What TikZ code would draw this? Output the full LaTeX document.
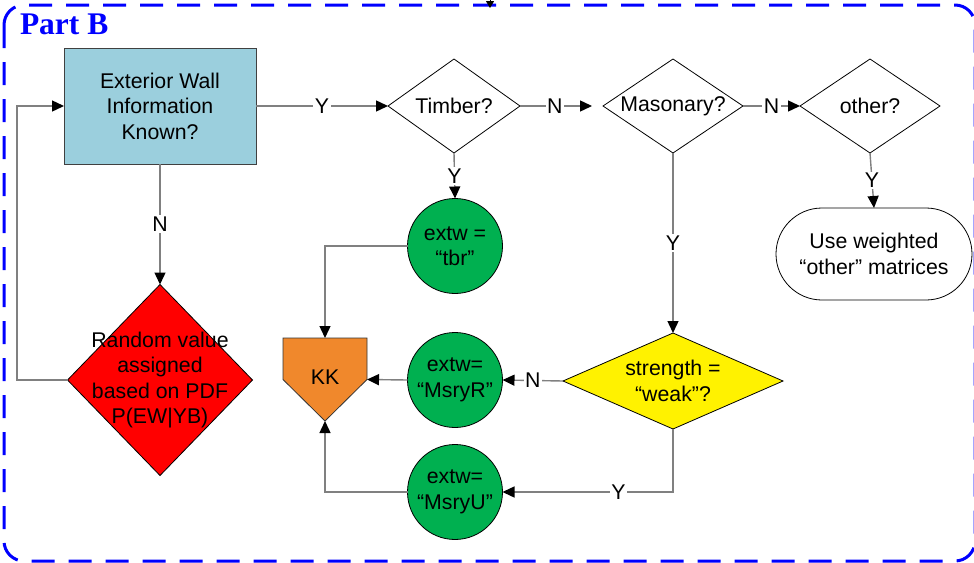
\documentclass[tikz,border=0pt]{standalone}
\usepackage{fontspec}
\setmainfont{Liberation Sans}
\newfontfamily\partfont{Liberation Serif}
\usetikzlibrary{arrows.meta,shapes.geometric,calc}

\definecolor{boxblue}{RGB}{155,207,221}
\definecolor{kkorange}{RGB}{240,136,44}
\definecolor{okgreen}{RGB}{0,176,80}
\definecolor{linegray}{RGB}{128,128,128}
\definecolor{frameblue}{RGB}{0,0,255}

\tikzset{
  every node/.style={font=\fontsize{21.3}{25.5}\selectfont, align=center,
                     inner sep=0pt, outer sep=0pt},
  conn/.style={draw=linegray, line width=1.4pt},
  arr/.style={conn, -{Triangle[length=12pt,width=11pt,color=black]}},
  lbl/.style={fill=white, inner sep=1.5pt},
  decision/.style={diamond, draw=black, line width=0.8pt},
  assign/.style={circle, draw=black, line width=0.8pt, fill=okgreen,
                 minimum size=95pt},
  process/.style={rectangle, draw=black!75, line width=0.8pt, fill=boxblue},
  terminal/.style={rectangle, draw=black, line width=0.8pt,
                   rounded corners=46pt},
  frame/.style={draw=frameblue, line width=3pt, dash pattern=on 23pt off 14pt,
                rounded corners=20pt},
}

\begin{document}
\begin{tikzpicture}[x=1pt,y=-1pt]
\useasboundingbox (0,0) rectangle (974,562);

% dashed group frame
\draw[frame] (4,5) rectangle (975,561);
\node[anchor=base west, font=\partfont\bfseries\fontsize{31.5}{31.5}\selectfont,
      text=frameblue] (title) at (20,34) {Part B};

% incoming connector from above the frame
\coordinate (inA) at (490,-12);
\coordinate (inB) at (490,8);
\draw[draw=black, line width=1pt, -{Triangle[length=7pt,width=8pt]}] (inA) -- (inB);

% nodes
\node[process, minimum width=192pt, minimum height=116pt] (ext) at (160,106)
  {Exterior Wall\\Information\\Known?};

\node[decision, minimum width=132pt, minimum height=94pt] (timber) at (454,106) {};
\node at (timber) {Timber?};
\node[decision, minimum width=140pt, minimum height=94pt] (mason) at (673,106) {};
\node at (mason) {Masonary?};
\node[decision, minimum width=140pt, minimum height=94pt] (other) at (870,106) {};
\node at (other) {other?};

\node[terminal, minimum width=196pt, minimum height=92pt] (use) at (874,254)
  {Use weighted\\“other” matrices};

\node[decision, fill=red, minimum width=185pt, minimum height=191pt] (rnd) at (160,380) {};
\node at (rnd) {Random value\\assigned\\based on PDF\\P(EW|YB)};

\node[assign] (tbr) at (455,246) {extw =\\“tbr”};
\node[assign] (msr) at (455,380) {extw=\\“MsryR”};
\node[assign] (msu) at (455,492) {extw=\\“MsryU”};

\node[decision, fill=yellow, minimum width=220pt, minimum height=96pt] (str) at (673,381) {};
\node at (str) {strength =\\“weak”?};

% KK off-page connector (pentagon)
\node[minimum width=84pt, minimum height=83pt] (kk) at (325,379.5) {};
\filldraw[fill=kkorange, draw=black!80, line width=0.8pt]
  (kk.north west) -- (kk.north east) -- (kk.east) -- (kk.south) -- (kk.west) -- cycle;
\node at ($(kk.center)+(0,-2)$) {KK};

% connectors
\coordinate (loopL) at (17,380);
\draw[arr] (ext.east) -- node[lbl]{Y} (timber.west);
\draw[arr, shorten >=11pt] (timber.east) -- node[lbl, pos=0.42]{N} (mason.west);
\draw[arr] (mason.east) -- node[lbl]{N} (other.west);
\draw[arr] (other.south) -- node[lbl]{Y} (use.north);
\draw[arr] (ext.south) -- node[lbl]{N} (rnd.north);
\draw[arr] (rnd.west) -- (loopL) |- (ext.west);
\draw[arr] (timber.south) -- node[lbl]{Y} (tbr.north);
\draw[arr] (tbr.west) -| (kk.north);
\draw[arr] (mason.south) -- node[lbl]{Y} (str.north);
\draw[arr] (str.west) -- node[lbl]{N} (msr.east);
\draw[arr] (msr.west) -- (kk.east);
\draw[arr] (str.south) |- node[lbl, pos=0.66]{Y} (msu.east);
\draw[arr] (msu.west) -| (kk.south);
\end{tikzpicture}
\end{document}
